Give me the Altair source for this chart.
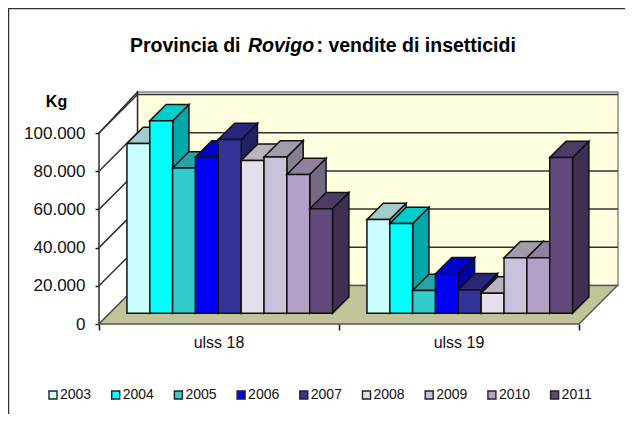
import altair as alt
import pandas as pd

YEARS = ["2003", "2004", "2005", "2006", "2007", "2008", "2009", "2010", "2011"]
CATEGORIES = ["ulss 18", "ulss 19"]
ULSS18 = [88800, 100700, 76000, 81800, 90900, 80000, 81800, 72600, 54700]
ULSS19 = [49000, 46900, 11900, 20600, 12200, 10500, 29000, 29000, 81500]
COLORS = ["#CCFFFF", "#00FFFF", "#33CCCC", "#0000FF", "#333399",
          "#E6E0EC", "#CCC1DA", "#B3A2C7", "#604A7B"]
Y_TICKS = [0, 20000, 40000, 60000, 80000, 100000]

W, H = 519, 232
PX_PER_CAT = 240
PX_PER_KG = 0.00191
X_MAX = W / PX_PER_CAT
Y_MAX = H / PX_PER_KG
DX, DY = 38.5 / PX_PER_CAT, 38.5 / PX_PER_KG
BAR_W = 22.85 / PX_PER_CAT
GAP = 0.0714
OFF_X, OFF_Y = 10.8 / PX_PER_CAT, 10.8 / PX_PER_KG
BD_X, BD_Y = 16.3 / PX_PER_CAT, 16.3 / PX_PER_KG


def shade(color, f):
    r, g, b = (int(color[i:i + 2], 16) for i in (1, 3, 5))
    return "#%02x%02x%02x" % (int(r * f), int(g * f), int(b * f))


def face(rows, name, pts, fill, stroke):
    for x, lo, hi in pts:
        rows.append(dict(face=name, x=x, lo=lo, hi=hi, fill=fill, stroke=stroke))


wall_rows = []
face(wall_rows, "a_back", [(DX, DY, Y_MAX), (X_MAX, DY, Y_MAX)], "#FFFFE0", "#808080")
face(wall_rows, "b_left", [(0, 0, 100000), (DX, DY, Y_MAX)], "#FFFFFF", "#222222")
face(wall_rows, "c_floor", [(0, 0, 0), (DX, 0, DY), (2, 0, DY), (2 + DX, DY, DY)],
     "#C4C49A", "#555555")

grid_rows = []
for v in Y_TICKS[1:]:
    for k, (x, y) in enumerate([(0, v), (DX, v + DY), (X_MAX, v + DY)]):
        grid_rows.append(dict(line=str(v), k=k, x=x, y=y))

bar_rows = []
n = 0
for c, values in enumerate([ULSS18, ULSS19]):
    for i, v in enumerate(values):
        x0 = c + GAP + OFF_X + i * BAR_W
        x1 = x0 + BAR_W
        base = OFF_Y
        top = base + v
        col = COLORS[i]
        face(bar_rows, f"{n:03d}a_side",
             [(x1, base, top), (x1 + BD_X, base + BD_Y, top + BD_Y)],
             shade(col, 0.66), "#111111")
        face(bar_rows, f"{n:03d}b_top",
             [(x0, top, top), (x0 + BD_X, top, top + BD_Y),
              (x1, top, top + BD_Y), (x1 + BD_X, top + BD_Y, top + BD_Y)],
             shade(col, 0.8), "#111111")
        face(bar_rows, f"{n:03d}c_front", [(x0, base, top), (x1, base, top)], col, "#111111")
        n += 1

FONT = "Liberation Sans"
x_scale = alt.Scale(domain=[0, X_MAX], nice=False, zero=False)
y_scale = alt.Scale(domain=[0, Y_MAX], nice=False, zero=False)
x_axis = alt.Axis(values=[0, 1, 2], domain=False, grid=False, labels=False,
                  tickColor="#111111", tickSize=6, tickWidth=1.5, title=None)
y_axis = alt.Axis(values=Y_TICKS, domain=False, grid=False, tickColor="#111111", tickSize=4,
                  tickWidth=1.5, labelFont=FONT, labelFontSize=17, labelColor="#111111",
                  labelPadding=10, labelExpr="replace(format(datum.value, ','), ',', '.')",
                  title="Kg", titleFont=FONT, titleFontSize=16, titleFontWeight="bold",
                  titleColor="#000000", titleAngle=0, titleAlign="center",
                  titleBaseline="middle", titleX=-43, titleY=9)


def area_layer(rows, width):
    return alt.Chart(pd.DataFrame(rows)).mark_area(orient="vertical", strokeWidth=width, opacity=1).encode(
        x=alt.X("x:Q", scale=x_scale, axis=x_axis),
        y=alt.Y("lo:Q", scale=y_scale, axis=y_axis, stack=None),
        y2="hi:Q",
        detail="face:N",
        fill=alt.Fill("fill:N", scale=None),
        stroke=alt.Stroke("stroke:N", scale=None),
    )


grid_layer = alt.Chart(pd.DataFrame(grid_rows)).mark_line(color="#333333", strokeWidth=1.5).encode(
    x=alt.X("x:Q", scale=x_scale, axis=x_axis),
    y=alt.Y("y:Q", scale=y_scale, axis=y_axis),
    detail="line:N",
    order="k:Q",
)

cat_layer = alt.Chart(pd.DataFrame({"c": CATEGORIES, "x": [0.5, 1.5]})).mark_text(
    font=FONT, fontSize=16, color="#111111", align="center", baseline="middle"
).encode(x=alt.X("x:Q", scale=x_scale, axis=x_axis), y=alt.value(H + 19), text="c:N")

TITLE_PARTS = ["Provincia di", "Rovigo", ": vendite di insetticidi"]
TITLE_PX = [31, 149, 217.5]
TITLE_STYLES = ["normal", "italic", "normal"]
title_layers = [
    alt.Chart(pd.DataFrame({"t": [t]})).mark_text(
        font=FONT, fontSize=19.5, fontWeight="bold", fontStyle=st, color="#000000",
        align="left", baseline="middle"
    ).encode(x=alt.value(px), y=alt.value(-46), text="t:N")
    for t, px, st in zip(TITLE_PARTS, TITLE_PX, TITLE_STYLES)
]

legend_layer = alt.Chart(pd.DataFrame({"year": YEARS})).mark_square(size=0, opacity=1).encode(
    x=alt.value(0), y=alt.value(0),
    color=alt.Color("year:N", scale=alt.Scale(domain=YEARS, range=COLORS), legend=alt.Legend(
        orient="none", legendX=-53, legendY=296, direction="horizontal", columns=9,
        title=None, symbolType="square", symbolSize=64, symbolStrokeColor="#222222",
        symbolStrokeWidth=1.4, symbolOpacity=1, labelFont=FONT, labelFontSize=14,
        labelColor="#111111", labelOffset=0, columnPadding=16.7, padding=0)),
)

frame_left = alt.Chart(pd.DataFrame({"a": [0]})).mark_rule(color="#333333", strokeWidth=1.5).encode(
    x=alt.value(-90.5), y=alt.value(-84), y2=alt.value(H + 90))
frame_top = alt.Chart(pd.DataFrame({"a": [0]})).mark_rule(color="#333333", strokeWidth=1.5).encode(
    y=alt.value(-83.5), x=alt.value(-91), x2=alt.value(W + 7))

chart = alt.layer(
    frame_left, frame_top,
    area_layer(wall_rows, 1.4), grid_layer, area_layer(bar_rows, 1.5),
    cat_layer, *title_layers, legend_layer,
).properties(
    width=W, height=H,
    autosize=alt.AutoSizeParams(type="none"),
    padding={"left": 91, "top": 84, "right": 7, "bottom": 91},
    background="#FFFFFF",
).configure_view(stroke=None)

chart.save("out.html", embed_options={"renderer": "svg", "actions": False})
